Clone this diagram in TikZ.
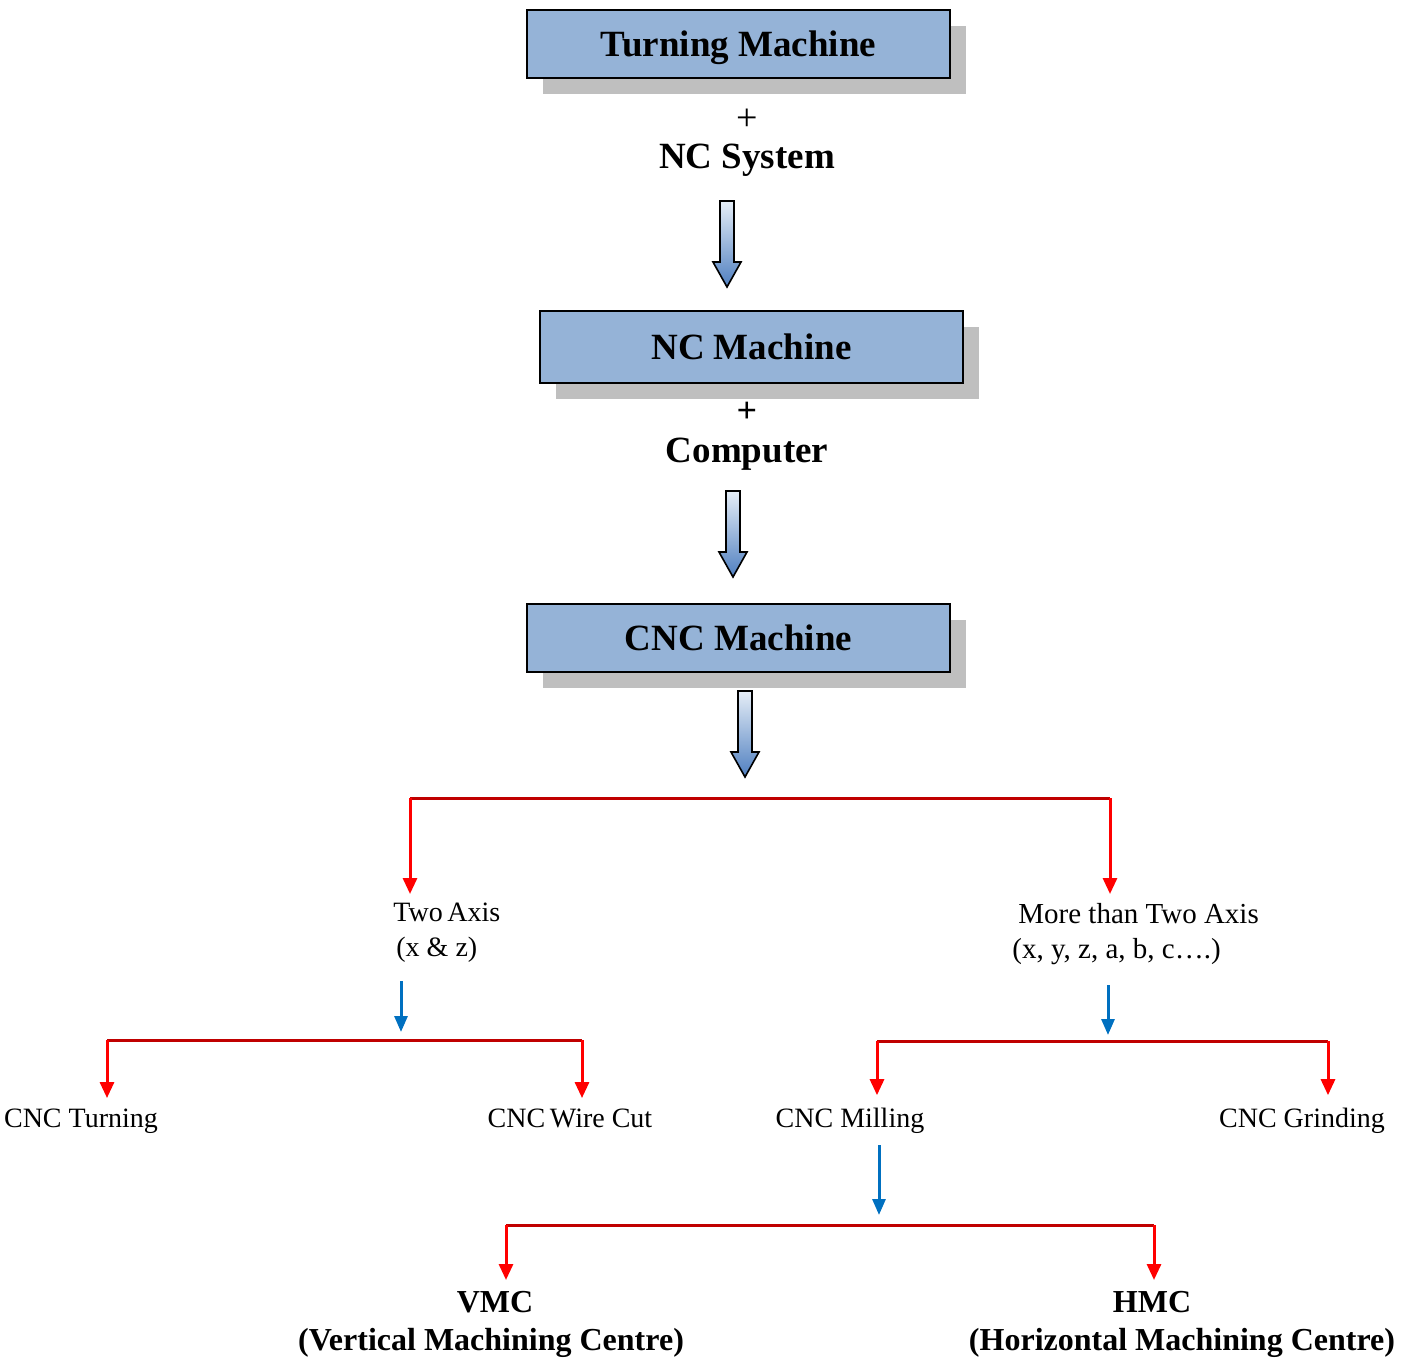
\documentclass[tikz,border=0pt]{standalone}
\usepackage{fontspec}
\setmainfont{Liberation Serif}
\usetikzlibrary{arrows.meta,shadows}
\definecolor{boxblue}{HTML}{95B3D7}
\definecolor{shadowgray}{HTML}{BFBFBF}
\definecolor{darkred}{HTML}{C00000}
\definecolor{brightred}{HTML}{FF0000}
\definecolor{arrowblue}{HTML}{0070C0}
\definecolor{shadetop}{HTML}{E6EEF7}
\definecolor{shadebot}{HTML}{4F7FC0}
\tikzset{
  mainbox/.style={draw=black, line width=1pt, fill=boxblue, minimum width=211.5pt,
    minimum height=34pt, inner sep=0pt, text height=12.2pt, text depth=0pt,
    font=\fontsize{18.5}{22}\selectfont\bfseries,
    drop shadow={shadow xshift=8pt, shadow yshift=-8pt, fill=shadowgray, opacity=1}},
  bigtext/.style={inner sep=0pt, font=\fontsize{18.5}{22}\selectfont\bfseries},
  smalltext/.style={inner sep=0pt, font=\fontsize{14}{17.5}\selectfont},
  boldlabel/.style={inner sep=0pt, align=center, font=\fontsize{16}{19}\selectfont\bfseries},
  redline/.style={draw=darkred, line width=1.5pt},
  redarrow/.style={draw=brightred, line width=1.5pt, -{Triangle[width=7pt,length=8pt]}, brightred},
  bluearrow/.style={draw=arrowblue, line width=1.5pt, -{Triangle[width=6.5pt,length=8pt]}, arrowblue},
}
\newcommand\blkarrow[3]{%
  \shade[top color=shadetop, bottom color=shadebot, draw=black, line width=0.8pt, line join=miter]
    ({#1-7},#2) -- ({#1+7},#2) -- ({#1+7},{#3-25}) -- ({#1+14},{#3-25}) -- (#1,#3)
    -- ({#1-14},{#3-25}) -- ({#1-7},{#3-25}) -- cycle;}
\begin{document}
\begin{tikzpicture}[x=0.5pt, y=-0.5pt]
\useasboundingbox (0,0) rectangle (1410,1359);

% top chain
\node[mainbox] (tm) at (738.5,44) {Turning Machine};
\node[inner sep=0pt, font=\fontsize{19}{21}\selectfont] (plus1) at (747,120) {+};
\node[bigtext, anchor=base] (ncs) at (747,169) {NC System};
\blkarrow{727}{201}{287}
\node[mainbox, minimum height=36pt] (ncm) at (751.5,347) {NC Machine};
\node[inner sep=0pt, font=\fontsize{18}{20}\selectfont\bfseries] (plus2) at (747,412) {+};
\node[bigtext, anchor=base] (comp) at (747,462) {Computer};
\blkarrow{733}{491}{577}
\node[mainbox] (cnc) at (738.5,638) {CNC Machine};
\blkarrow{745}{691}{777}

% level 1
\node[smalltext, align=left, anchor=north west] (two) at (393,903) {Two\,Axis\\\hspace*{1.5pt}(x \& z)};
\node[smalltext, align=left, anchor=north west, font=\fontsize{14.5}{17.5}\selectfont] (more) at (1012,903) {\hspace*{3pt}More than Two Axis\\(x, y, z, a, b, c….)};
\coordinate (h1l) at (410,798);
\coordinate (h1r) at (1110,798);
\draw[redline] (h1l) -- (h1r);
\draw[redarrow, shorten >=4.5pt] (h1l) -- (h1l |- two.north);
\draw[redarrow, shorten >=4.5pt] (h1r) -- (h1r |- more.north);

% level 2 left
\coordinate (h2l) at (107,1040);
\coordinate (h2r) at (582,1040);
\coordinate (h2c) at (401,1040);
\draw[bluearrow, shorten <=9pt] (two.south -| h2c) -- ([yshift=4pt]h2c);
\node[smalltext, anchor=base] (turn) at (81,1127) {CNC Turning};
\node[smalltext, anchor=base] (wire) at (570,1127) {CNC\,Wire Cut};
\draw[redline] (h2l) -- (h2r);
\draw[redarrow] (h2l) -- ([yshift=5pt]h2l |- turn.north);
\draw[redarrow] (h2r) -- ([yshift=5pt]h2r |- turn.north);

% level 2 right
\coordinate (h3l) at (877,1041);
\coordinate (h3r) at (1328,1041);
\coordinate (h3c) at (1108,1041);
\draw[bluearrow, shorten <=10pt] (more.south -| h3c) -- ([yshift=3pt]h3c);
\node[smalltext, anchor=base] (mill) at (850,1127) {CNC Milling};
\node[smalltext, anchor=base] (grind) at (1302,1127) {CNC Grinding};
\draw[redline] (h3l) -- (h3r);
\draw[redarrow] (h3l) -- ([yshift=6pt]h3l |- mill.north);
\draw[redarrow] (h3r) -- ([yshift=6pt]h3r |- mill.north);

% level 3
\coordinate (h4l) at (506,1225);
\coordinate (h4r) at (1154,1225);
\coordinate (h4c) at (879,1225);
\draw[bluearrow, shorten <=6pt] (mill.south -| h4c) -- ([yshift=5pt]h4c);
\node[boldlabel, anchor=north] (vmc) at (491,1291) {\hspace*{4pt}VMC\\(Vertical Machining Centre)};
\node[boldlabel, anchor=north] (hmc) at (1182,1291) {HMC\hspace*{30pt}\\(Horizontal Machining Centre)};
\draw[redline] (h4l) -- (h4r);
\draw[redarrow, shorten >=5.5pt] (h4l) -- (h4l |- vmc.north);
\draw[redarrow, shorten >=5.5pt] (h4r) -- (h4r |- hmc.north);
\end{tikzpicture}
\end{document}
